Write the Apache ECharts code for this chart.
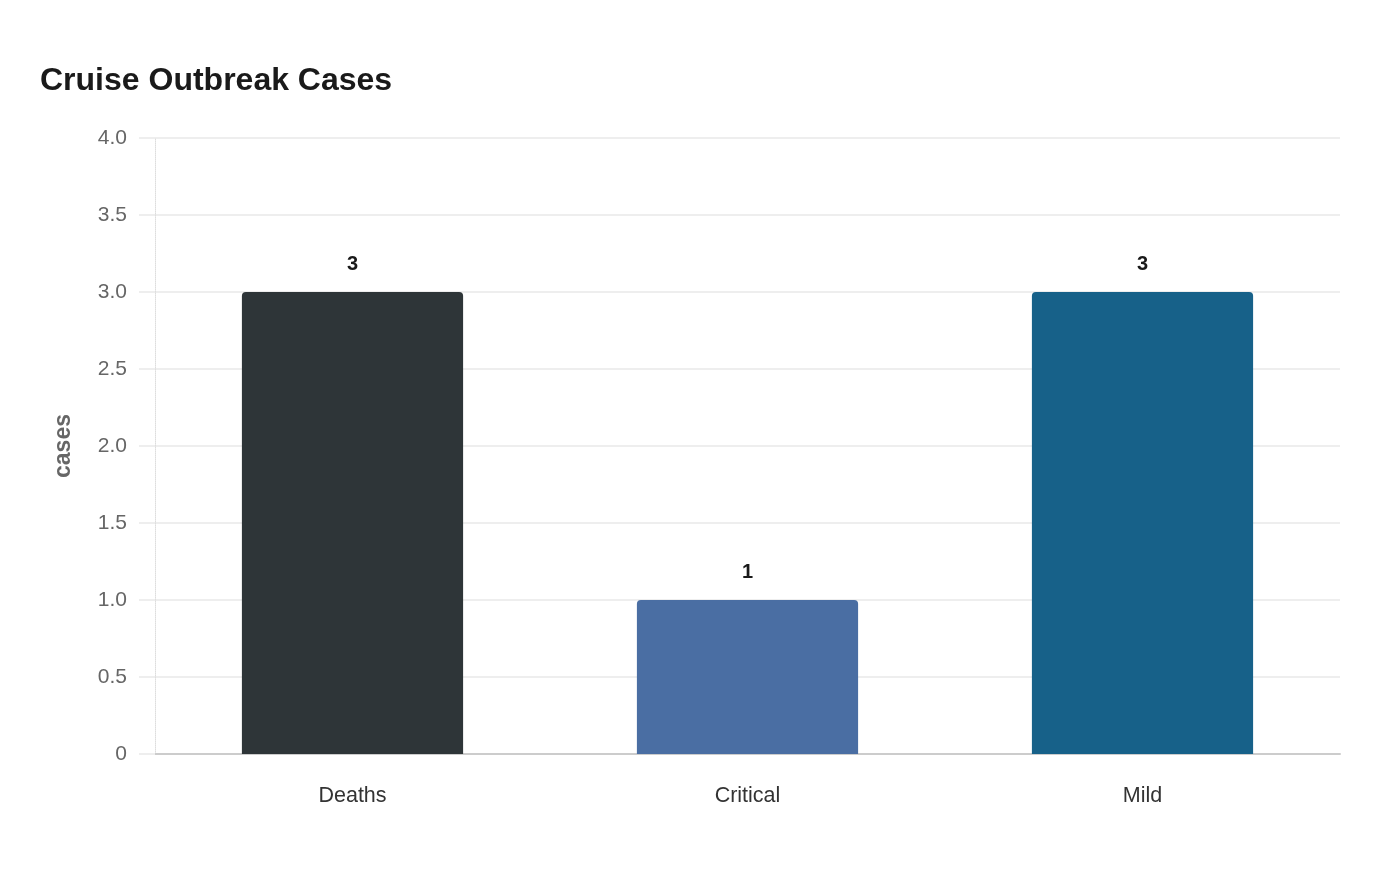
<!DOCTYPE html>
<html>
<head>
<meta charset="utf-8">
<script src="https://cdn.jsdelivr.net/npm/echarts@6/dist/echarts.min.js"></script>
<style>
  html, body { margin: 0; padding: 0; background: #fff; }
  #chart { width: 1400px; height: 880px; }
</style>
</head>
<body>
<div id="chart"></div>
<script>
  // data
  var categories = ['Deaths', 'Critical', 'Mild'];
  var caseValues = [3, 1, 3];
  var barColors = ['#2e3538', '#4a6ea3', '#176189'];

  var myChart = echarts.init(document.getElementById('chart'));

  var seriesData = [];
  for (var i = 0; i < caseValues.length; i++) {
    seriesData.push({
      value: caseValues[i],
      itemStyle: { color: barColors[i] }
    });
  }

  var option = {
    backgroundColor: '#fff',
    animation: false,
    title: {
      text: 'Cruise Outbreak Cases',
      left: 35,
      top: 60,
      textStyle: {
        fontFamily: 'Liberation Sans',
        fontSize: 32,
        fontWeight: 'bold',
        color: '#1a1a1a'
      }
    },
    grid: {
      left: 155,
      right: 60,
      top: 138,
      bottom: 126
    },
    xAxis: {
      type: 'category',
      data: categories,
      axisLine: { lineStyle: { color: '#cccccc', width: 2 } },
      axisTick: { show: false },
      axisLabel: {
        margin: 31,
        fontFamily: 'Liberation Sans',
        fontSize: 21.5,
        color: '#333333'
      }
    },
    yAxis: {
      type: 'value',
      min: 0,
      max: 4,
      interval: 0.5,
      name: 'cases',
      nameLocation: 'middle',
      nameGap: 80,
      nameTextStyle: {
        fontFamily: 'Liberation Sans',
        fontSize: 23,
        fontWeight: 'bold',
        color: '#666666'
      },
      axisLine: { show: true, lineStyle: { color: '#dddddd', type: 'dotted', width: 1 } },
      axisTick: { show: true, length: 16, lineStyle: { color: '#eeeeee', width: 2 } },
      splitLine: { lineStyle: { color: '#eeeeee', width: 2 } },
      axisLabel: {
        margin: 28,
        fontFamily: 'Liberation Sans',
        fontSize: 21,
        color: '#666666',
        formatter: function (v) {
          return v === 0 ? '0' : v.toFixed(1);
        }
      }
    },
    series: [{
      type: 'bar',
      data: seriesData,
      barWidth: '56%',
      itemStyle: { borderRadius: [4, 4, 0, 0] },
      label: {
        show: true,
        position: 'top',
        distance: 18,
        fontFamily: 'Liberation Sans',
        fontSize: 20,
        fontWeight: 'bold',
        color: '#1a1a1a'
      }
    }]
  };
  myChart.setOption(option, true);
</script>
</body>
</html>
